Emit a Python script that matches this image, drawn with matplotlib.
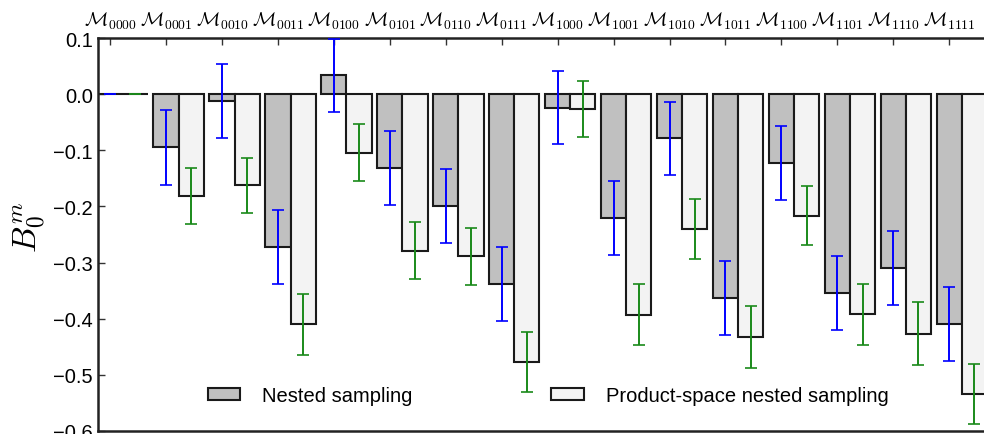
import matplotlib
matplotlib.use("Agg")
import matplotlib.pyplot as plt
import numpy as np

plt.rcParams['font.family'] = ['Liberation Sans', 'DejaVu Sans']
plt.rcParams['mathtext.fontset'] = 'cm'

models = ['0000', '0001', '0010', '0011', '0100', '0101', '0110', '0111',
          '1000', '1001', '1010', '1011', '1100', '1101', '1110', '1111']
tick_labels = [r'$\mathcal{M}_{%s}$' % m for m in models]

nested = [0.0, -0.095, -0.0125, -0.273, 0.034, -0.131, -0.199, -0.338,
          -0.024, -0.220, -0.079, -0.363, -0.123, -0.354, -0.310, -0.409]
nested_err = [0.0, 0.066, 0.0655, 0.066, 0.065, 0.066, 0.066, 0.066,
              0.065, 0.066, 0.0655, 0.0665, 0.066, 0.066, 0.066, 0.066]
product = [0.0, -0.1815, -0.162, -0.410, -0.104, -0.279, -0.289, -0.477,
           -0.027, -0.393, -0.241, -0.432, -0.2165, -0.392, -0.427, -0.534]
product_err = [0.0, 0.0495, 0.049, 0.054, 0.051, 0.051, 0.051, 0.054,
               0.050, 0.0545, 0.0535, 0.055, 0.052, 0.0547, 0.056, 0.054]

labels = ['Nested sampling', 'Product-space nested sampling']

w = 0.45
x = np.arange(len(models))

fig = plt.figure(figsize=(9.84, 4.35), dpi=100)
ax = fig.add_axes([97.5/984, 3/435, 889.5/984, 393/435])

ax.bar(x, nested, w, color='#c0c0c0', edgecolor='#1a1a1a', linewidth=1.5,
       label=labels[0], zorder=2)
ax.bar(x + w, product, w, color='#f3f3f3', edgecolor='#1a1a1a', linewidth=1.5,
       label=labels[1], zorder=2)
ax.errorbar(x, nested, yerr=nested_err, fmt='none', ecolor='#0000ff',
            elinewidth=1.4, capsize=4, capthick=1.2, zorder=3)
ax.errorbar(x + w, product, yerr=product_err, fmt='none', ecolor='#1a8a1a',
            elinewidth=1.4, capsize=4, capthick=1.2, zorder=3)

ax.set_xlim(-w / 2, 15 + 1.5 * w)
ax.set_ylim(-0.6, 0.1)
ax.set_yticks(np.arange(-0.6, 0.11, 0.1))
ax.set_yticklabels(['\u22120.6', '\u22120.5', '\u22120.4', '\u22120.3',
                    '\u22120.2', '\u22120.1', '0.0', '0.1'])

ax.xaxis.tick_top()
ax.set_xticks(x)
ax.set_xticklabels(tick_labels, fontsize=14)
ax.tick_params(axis='x', direction='in', length=5, width=1, pad=5,
               top=True, bottom=False, color='#333333')
ax.tick_params(axis='y', direction='in', length=5, width=1, labelsize=14.5,
               left=True, right=False, color='#333333')

for s in ax.spines.values():
    s.set_linewidth(1.8)
    s.set_color('#222222')

ax.set_ylabel(r'$B_0^m$', fontsize=24, labelpad=6)
ax.yaxis.set_label_coords(-0.056, 0.52)

leg = fig.legend(loc='center', bbox_to_anchor=(548/984, 1 - 397/435), ncol=2,
                 frameon=False, fontsize=14.5, handlelength=1.6,
                 handleheight=0.55, handletextpad=1.1, columnspacing=6.9)

fig.savefig('out.png', dpi=100)
